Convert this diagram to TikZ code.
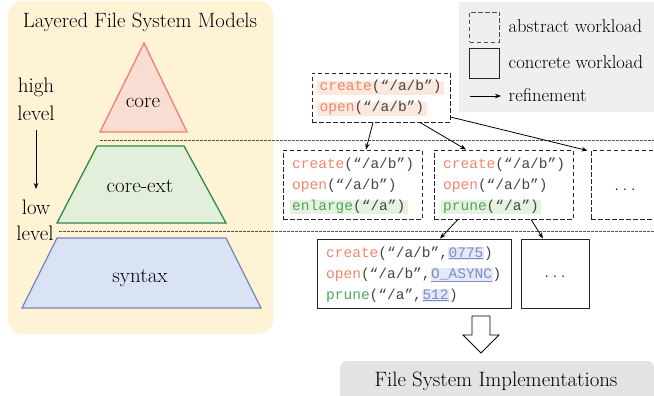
\documentclass[tikz,border=0pt]{standalone}
\usepackage{fontspec}
\setmonofont{Liberation Mono}
\usetikzlibrary{arrows.meta}
\definecolor{panel}{HTML}{FFF3D6}
\definecolor{coreline}{HTML}{F07F6E}
\definecolor{corefill}{HTML}{F9DDD3}
\definecolor{extline}{HTML}{2E8B47}
\definecolor{extfill}{HTML}{E2EFDA}
\definecolor{synline}{HTML}{7B84B8}
\definecolor{synfill}{HTML}{DAE3F3}
\definecolor{legendgrey}{HTML}{EFEFEF}
\definecolor{implgrey}{HTML}{E3E3E3}
\definecolor{salmon}{HTML}{F4846C}
\definecolor{greentext}{HTML}{4FA65A}
\definecolor{codegrey}{HTML}{454545}
\definecolor{valblue}{HTML}{7D8CC4}
\definecolor{valbg}{HTML}{E3E9F6}
\definecolor{orangebg}{HTML}{FCE8DC}
\definecolor{greenbg}{HTML}{E6F2E0}
\definecolor{sepgrey}{HTML}{555555}
\newcommand\kwr[1]{\textcolor{salmon}{#1}}
\newcommand\kwg[1]{\textcolor{greentext}{#1}}
\newcommand\valb[1]{{\setlength{\fboxsep}{0.6pt}\colorbox{valbg}{\textcolor{valblue}{\underline{#1}}}}}
\newcommand\spaceddots{.\hspace{3.6pt}.\hspace{3.6pt}.}
\tikzset{
  lbl/.style={font=\fontsize{21}{24}\selectfont, inner sep=0pt},
  legtxt/.style={font=\fontsize{18.6}{21}\selectfont, anchor=west, inner sep=0pt},
  codeline/.style={anchor=west, inner xsep=2.5pt, inner ysep=0.5pt, text height=9.5pt, text depth=3.5pt, font=\fontsize{14.5}{16}\ttfamily, text=codegrey},
  abstractbox/.style={draw=black!85, dashed, dash pattern=on 4.5pt off 2.5pt, line width=0.9pt, inner sep=0pt},
  concretebox/.style={draw=black!85, line width=0.9pt, inner sep=0pt},
  refine/.style={-{Stealth[length=6pt,width=4.5pt]}, line width=0.8pt},
  sepline/.style={draw=sepgrey, line width=0.8pt, dash pattern=on 2.5pt off 1.5pt},
  dotsnode/.style={font=\fontsize{19}{22}\selectfont, inner sep=0pt, anchor=base},
}
\begin{document}
\begin{tikzpicture}[x=1pt,y=-1pt]
\useasboundingbox (0,0) rectangle (654,396);
% left panel
\fill[panel, rounded corners=14pt] (8,1) rectangle (273,334);
\node[lbl, font=\fontsize{20.7}{24}\selectfont] (title) at (140,22) {Layered File System Models};
% pyramid
\draw[coreline, fill=corefill, line width=1.3pt] (144,43) -- (187,132) -- (100,132) -- cycle;
\node[lbl] (core) at (143,103) {core};
\draw[extline, fill=extfill, line width=1.3pt] (97,146) -- (184,146) -- (226,223) -- (57,223) -- cycle;
\node[lbl] (coreext) at (140,186) {core-ext};
\draw[synline, fill=synfill, line width=1.3pt] (57,238) -- (226,238) -- (261,308) -- (22,308) -- cycle;
\node[lbl] (syntax) at (140,278) {syntax};
% level labels
\node[lbl] (high) at (36,87) {high};
\node[lbl] (lvl1) at (36,113) {level};
\node[lbl] (low) at (36,207) {low};
\node[lbl] (lvl2) at (35,233) {level};
\coordinate (ar1) at (36,130);
\coordinate (ar2) at (36,189);
\draw[-{Stealth[length=6pt,width=4.5pt]}, line width=0.8pt] (ar1) -- (ar2);
% separators
\coordinate (s1a) at (100,140);
\coordinate (s1b) at (654,140);
\coordinate (s2a) at (59,231);
\coordinate (s2b) at (654,231);
\draw[sepline] (s1a) -- (s1b);
\draw[sepline] (s2a) -- (s2b);
% legend
\fill[legendgrey] (459,2) rectangle (655,112);
\node[abstractbox, draw=black!70, minimum width=30pt, minimum height=30pt] (legA) at (484.5,27) {};
\node[legtxt] (legAt) at (508.5,26) {abstract workload};
\node[concretebox, minimum width=30pt, minimum height=30pt] (legC) at (484.5,63) {};
\node[legtxt] (legCt) at (508.5,62) {concrete workload};
\coordinate (legR1) at (470,96);
\coordinate (legR2) at (501,96);
\draw[refine] (legR1) -- (legR2);
\node[legtxt] (legRt) at (508.5,95) {refinement};
% abstract box top
\node[abstractbox, minimum width=138pt, minimum height=49pt] (A) at (381,97.5) {};
\node[codeline, fill=orangebg] (A1) at (317,88) {\kwr{create}(“/a/b”)};
\node[codeline, fill=orangebg] (A2) at (317,109) {\kwr{open}(“/a/b”)};
% middle abstract boxes
\node[abstractbox, minimum width=139pt, minimum height=69pt] (B1) at (352.5,184.5) {};
\node[codeline] (B11) at (289.5,165) {\kwr{create}(“/a/b”)};
\node[codeline] (B12) at (289.5,186) {\kwr{open}(“/a/b”)};
\node[codeline, fill=greenbg] (B13) at (289.5,207) {\kwg{enlarge}(“/a”)};
\node[abstractbox, minimum width=139pt, minimum height=69pt] (B2) at (503.5,184.5) {};
\node[codeline] (B21) at (440.5,165) {\kwr{create}(“/a/b”)};
\node[codeline] (B22) at (440.5,186) {\kwr{open}(“/a/b”)};
\node[codeline, fill=greenbg] (B23) at (440.5,207) {\kwg{prune}(“/a”)};
\node[abstractbox, minimum width=70pt, minimum height=69pt] (B3) at (626,184.5) {};
\node[dotsnode] (B3d) at (625,190) {\spaceddots};
% concrete boxes
\node[concretebox, minimum width=194pt, minimum height=69pt] (C1) at (414,273.5) {};
\node[codeline] (C11) at (323.5,254) {\kwr{create}(“/a/b”,\valb{0775})};
\node[codeline] (C12) at (323.5,275) {\kwr{open}(“/a/b”,\valb{O\_ASYNC})};
\node[codeline] (C13) at (323.5,296) {\kwg{prune}(“/a”,\valb{512})};
\node[concretebox, minimum width=68pt, minimum height=69pt] (C2) at (555,273.5) {};
\node[dotsnode] (C2d) at (555,277) {\spaceddots};
% refinement arrows
\draw[refine] ([xshift=-8pt]A.south) -- ([xshift=13.5pt]B1.north);
\draw[refine] ([xshift=39pt]A.south) -- ([xshift=-37.5pt]B2.north);
\draw[refine] ([yshift=-19.5pt]A.east) -- ([xshift=-3pt,yshift=-1pt]B3.north west);
\draw[refine] ([xshift=-45.5pt]B2.south) -- ([xshift=26pt]C1.north);
\draw[refine] ([xshift=27.5pt]B2.south) -- ([xshift=-12pt]C2.north);
% implementation box and block arrow
\node[fill=implgrey, rounded corners=7pt, minimum width=314pt, minimum height=44pt, inner sep=0pt] (impl) at (497,383) {};
\node[lbl, font=\fontsize{20.8}{24}\selectfont] (implt) at (496,381) {File System Implementations};
\draw[line width=0.9pt, fill=white, line join=miter] (472,316) -- (490,316) -- (490,335) -- (499,335) -- (481,353) -- (463,335) -- (472,335) -- cycle;
\end{tikzpicture}
\end{document}
